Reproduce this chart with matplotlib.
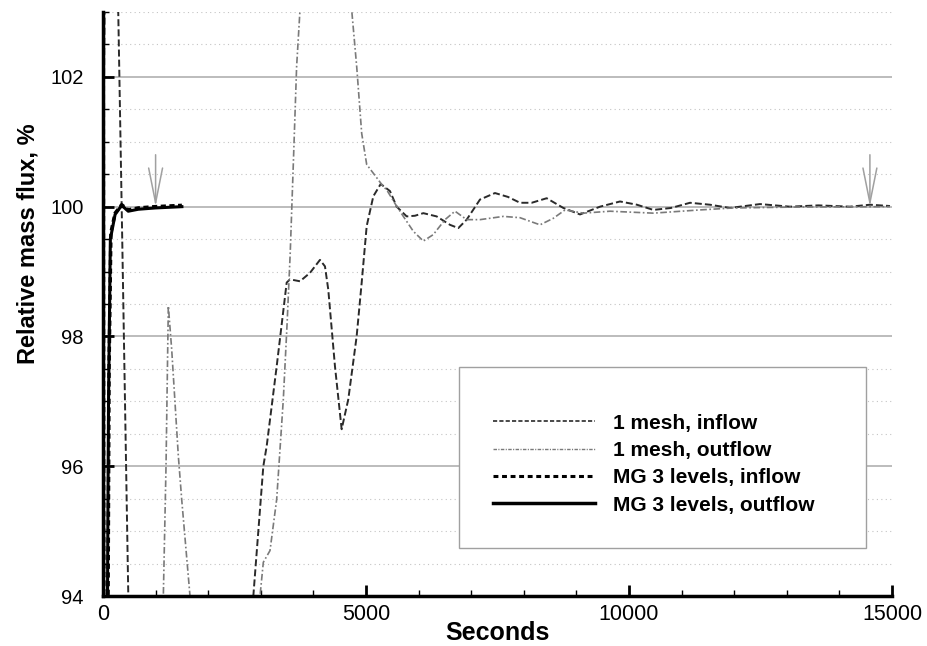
import matplotlib
matplotlib.use("Agg")
import matplotlib.pyplot as plt
from matplotlib.lines import Line2D
from matplotlib.patches import Rectangle
from matplotlib.ticker import MultipleLocator

plt.rcParams["font.family"] = ["Liberation Sans", "DejaVu Sans"]

# 1 mesh, inflow
inflow_1mesh_t = [0, 150, 290, 355, 481, 700, 1800, 2600, 2858, 3048, 3112, 3302,
                  3492, 3555, 3745, 3935, 4125, 4220, 4283, 4410, 4537, 4663, 4822,
                  4918, 5013, 5139, 5280, 5456, 5583, 5773, 5930, 6090, 6343, 6597,
                  6755, 6914, 7167, 7452, 7700, 7928, 8150, 8435, 8752, 9069, 9449,
                  9829, 10150, 10463, 10800, 11160, 11540, 11920, 12490, 13061,
                  13600, 14200, 14582, 14962]
inflow_1mesh_v = [100, 115, 103, 100, 94, 85, 80, 88, 94, 96.0, 96.31, 97.54,
                  98.83, 98.88, 98.85, 98.98, 99.18, 99.08, 98.72, 97.54, 96.57,
                  97.03, 98.0, 98.83, 99.70, 100.16, 100.35, 100.24, 100.0, 99.85,
                  99.86, 99.90, 99.85, 99.72, 99.67, 99.80, 100.11, 100.21, 100.15,
                  100.06, 100.06, 100.13, 99.98, 99.88, 100.0, 100.08, 100.03, 99.95,
                  99.98, 100.06, 100.03, 99.98, 100.04, 100.0, 100.02, 100.0, 100.03,
                  100.01]

# 1 mesh, outflow
outflow_1mesh_t = [0, 100, 700, 1147, 1198, 1242, 1306, 1432, 1496, 1654, 2200,
                   2985, 3048, 3175, 3302, 3428, 3500, 3560, 3620, 3681, 3745, 4200,
                   4728, 4823, 4918, 5013, 5200, 5329, 5393, 5550, 5710, 5900, 6090,
                   6280, 6502, 6692, 6914, 7167, 7611, 7928, 8308, 8560, 8784, 9132,
                   9639, 10463, 11350, 11984, 13251, 14962]
outflow_1mesh_v = [100, 80, 70, 94, 96.0, 98.47, 97.8, 96.16, 95.49, 94, 85,
                   94, 94.52, 94.70, 95.49, 97.03, 98.2, 99.3, 100.7, 102.16, 103.03,
                   110, 103.03, 102.16, 101.13, 100.65, 100.45, 100.31, 100.26,
                   100.05, 99.85, 99.62, 99.47, 99.57, 99.80, 99.93, 99.80, 99.80,
                   99.85, 99.83, 99.72, 99.82, 99.95, 99.90, 99.93, 99.90, 99.95,
                   99.98, 99.995, 100.0]

# MG 3 levels
mg_in_t = [0, 20, 70, 115, 150, 230, 355, 480, 670, 990, 1500]
mg_in_v = [108, 88, 89, 97.5, 99.6, 99.9, 100.03, 99.95, 99.98, 100.0, 100.02]
mg_out_t = [0, 15, 60, 105, 140, 230, 355, 480, 670, 990, 1500]
mg_out_v = [106, 90, 90, 97.0, 99.5, 99.88, 100.02, 99.93, 99.96, 99.98, 100.0]

labels = ["1 mesh, inflow", "1 mesh, outflow",
          "MG 3 levels, inflow", "MG 3 levels, outflow"]

# converged markers
arrow_x = [1000, 14580]
arrow_tip_y = 100.0
arrow_tail_y = 100.8

fig = plt.figure(figsize=(9.27, 6.46), dpi=100)
ax = fig.add_axes([103 / 927, 50 / 646, 789 / 927, 584 / 646])

ax.plot(inflow_1mesh_t, inflow_1mesh_v, color="#2a2a2a", lw=1.4, dashes=(3.6, 1.6))
ax.plot(outflow_1mesh_t, outflow_1mesh_v, color="#7a7a7a", lw=1.2,
        dashes=(4, 1.5, 1, 1.5))
ax.plot(mg_out_t, mg_out_v, color="black", lw=2.2)
ax.plot(mg_in_t, mg_in_v, color="black", lw=2.5, dashes=(1.5, 1))

for x in arrow_x:
    ax.annotate("", xy=(x, arrow_tip_y), xytext=(x, arrow_tail_y),
                arrowprops=dict(arrowstyle="->,head_length=2.5,head_width=0.5",
                                color="#a0a0a0", lw=1.1, shrinkA=0, shrinkB=0))

ax.set_xlim(0, 15000)
ax.set_ylim(94, 103)
ax.set_xticks([0, 5000, 10000, 15000])
ax.set_yticks([94, 96, 98, 100, 102])
ax.xaxis.set_minor_locator(MultipleLocator(1000))
ax.yaxis.set_minor_locator(MultipleLocator(0.5))

for side in ["top", "right"]:
    ax.spines[side].set_visible(False)
for side in ["left", "bottom"]:
    ax.spines[side].set_linewidth(2.5)

ax.tick_params(which="major", direction="in", length=8, width=2)
ax.tick_params(which="minor", direction="in", length=4, width=1)
ax.tick_params(axis="y", which="major", pad=14, labelsize=14.5)
ax.tick_params(axis="x", which="major", pad=6, labelsize=15.5)

ax.yaxis.grid(True, which="major", color="#b0b0b0", lw=1.2, ls="-")
ax.yaxis.grid(True, which="minor", color="#c4c4c4", lw=0.8, ls=(0, (1, 3)))
ax.set_axisbelow(True)

ax.set_xlabel("Seconds", fontsize=18, fontweight="bold")
ax.xaxis.set_label_coords(0.5, -0.043)
ax.set_ylabel("Relative mass flux, %", fontsize=17, fontweight="bold")
ax.yaxis.set_label_coords(-0.080, 0.604)

# legend box and entries
ax.add_patch(Rectangle((0.451, 0.0822), 0.516, 0.310, transform=ax.transAxes,
                       facecolor="white", edgecolor="#a0a0a0", lw=1, zorder=4))
handles = [
    Line2D([], [], color="#2a2a2a", lw=1.2, dashes=(2.5, 1.3)),
    Line2D([], [], color="#7a7a7a", lw=1.0, dashes=(2.5, 1, 0.8, 1)),
    Line2D([], [], color="black", lw=2.2, dashes=(1.6, 1.2)),
    Line2D([], [], color="black", lw=2.5),
]
leg = ax.legend(handles, labels, loc="upper left", bbox_to_anchor=(0.494, 0.3125),
                frameon=False, borderpad=0, borderaxespad=0, handlelength=4.9,
                handletextpad=0.87, labelspacing=0.4,
                prop={"size": 15, "weight": "bold"})
leg.set_zorder(5)

fig.savefig("out.png", dpi=100)
